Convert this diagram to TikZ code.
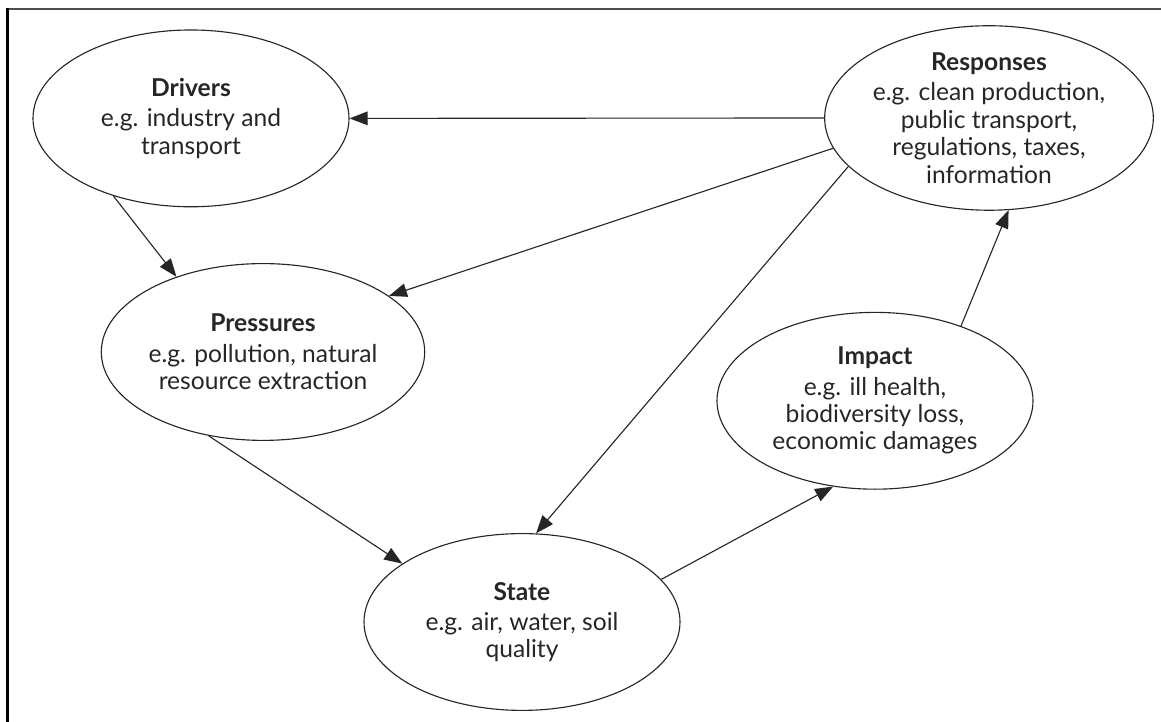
\documentclass[tikz,border=0pt]{standalone}
\usepackage{fontspec}
\setmainfont{Lato}
\usetikzlibrary{arrows.meta,shapes.geometric}

\begin{document}
\begin{tikzpicture}[
    stage/.style={ellipse, draw=black!85, line width=0.8pt, minimum width=7.9cm,
        minimum height=4.42cm, inner sep=0pt, align=center, text=black!85,
        font=\fontsize{17.5}{19.5}\selectfont},
    link/.style={-{Triangle[length=0.45cm, width=0.34cm]}, line width=0.8pt, black!85}
]
\useasboundingbox (0,0) rectangle (29.025,18.05);

% frame
\draw[line width=1.4pt, black!70] (0.15,17.825) -- (29.025,17.825);
\draw[line width=2pt] (0.1875,17.85) -- (0.1875,0);

\node[stage] (drivers) at (4.775,15.09) {\textbf{Drivers}\\[2pt] e.g. industry and\\ transport};
\node[stage] (responses) at (24.725,15.1) {\textbf{Responses}\\[2pt] e.g. clean production,\\ public transport,\\ regulations, taxes,\\ information};
\node[stage] (pressures) at (6.575,9.25) {\textbf{Pressures}\\[2pt] e.g. pollution, natural\\ resource extraction};
\node[stage] (impact) at (21.875,8.03) {\textbf{Impact}\\[2pt] e.g. ill health,\\ biodiversity loss,\\ economic damages};
\node[stage] (state) at (13.05,2.5) {\textbf{State}\\[2pt] e.g. air, water, soil\\ quality};

\draw[link] (responses.west) -- (drivers.east);
\draw[link] (drivers.-135) -- (pressures.139);
\draw[link] (responses.191) -- (pressures.24);
\draw[link] (responses.199) -- (state.81);
\draw[link] (pressures.-123) -- (state.154);
\draw[link] (state.17) -- (impact.-116);
\draw[link] (impact.41) -- (responses.-78);

\end{tikzpicture}
\end{document}
